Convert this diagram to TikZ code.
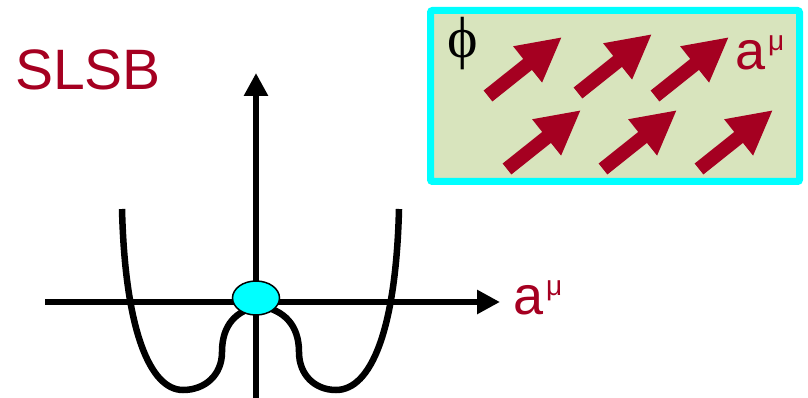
\documentclass[tikz,border=0pt]{standalone}
\usepackage{fontspec}
\setmainfont{Liberation Sans}
\newfontfamily\phifont{Liberation Serif}
\usetikzlibrary{arrows.meta,shapes.geometric}
\definecolor{darkred}{HTML}{A50021}
\definecolor{boxfill}{HTML}{D8E4BD}
\definecolor{cyanc}{HTML}{00FFFF}
\tikzset{
  axis/.style={line width=6pt,-{Triangle[length=23pt,width=23pt]}},
  potential/.style={line width=6.5pt},
  fieldarrow/.style={darkred,line width=14pt,-{Triangle[length=44pt,width=43pt]}},
  redlabel/.style={darkred,inner sep=0pt,anchor=base west},
  fieldbox/.style={draw=cyanc,fill=boxfill,line width=7pt,rounded corners=2pt,inner sep=0pt},
  vacuum/.style={ellipse,draw=black,fill=cyanc,line width=1.5pt,minimum width=47pt,minimum height=34pt,inner sep=0pt}
}
\newcommand{\amu}{{\fontsize{54}{54}\selectfont a}\hspace{3pt}\raisebox{19pt}{\fontsize{28}{28}\selectfont μ}}
\begin{document}
\begin{tikzpicture}[x=1pt,y=-1pt]
\useasboundingbox (0,0) rectangle (808,398);
% field box
\node[fieldbox,minimum width=369pt,minimum height=171pt] (box) at (615,96) {};
\node[inner sep=0pt] (phi) at (463,44) {\fontsize{58}{58}\phifont ϕ};
\node[redlabel] (boxa) at (735,70) {\amu};
% arrows in box
\foreach \n/\tx/\ty in {1/488/96,2/578/93,3/655/96,4/507/169,5/603/169,6/699/169}{
  \coordinate (t\n) at (\tx,\ty);
  \coordinate (h\n) at (\tx+74,\ty-59);
  \draw[fieldarrow] (t\n) -- (h\n);
}
% label
\node[redlabel] (slsb) at (15,90) {\fontsize{57}{57}\selectfont SLSB};
% potential curve
\coordinate (lt) at (122,209);
\coordinate (lm) at (183,390);
\coordinate (lb) at (222,352);
\coordinate (pk) at (260,306);
\coordinate (rb) at (299,352);
\coordinate (rm) at (336,390);
\coordinate (rt) at (399,209);
\draw[potential] (lt) .. controls (125,330) and (150,390) .. (lm)
  .. controls (205,390) and (222,375) .. (lb)
  .. controls (222,325) and (236,310) .. (pk)
  .. controls (284,310) and (299,325) .. (rb)
  .. controls (299,375) and (315,390) .. (rm)
  .. controls (371,390) and (396,330) .. (rt);
% axes
\coordinate (xs) at (45,302);
\coordinate (xe) at (500,302);
\coordinate (ys) at (256,398);
\coordinate (ye) at (256,73);
\draw[axis] (xs) -- (xe);
\draw[axis] (ys) -- (ye);
\node[redlabel] (axa) at (513,314) {\amu};
% vacuum
\node[vacuum] (vac) at (256,298) {};
\end{tikzpicture}
\end{document}
